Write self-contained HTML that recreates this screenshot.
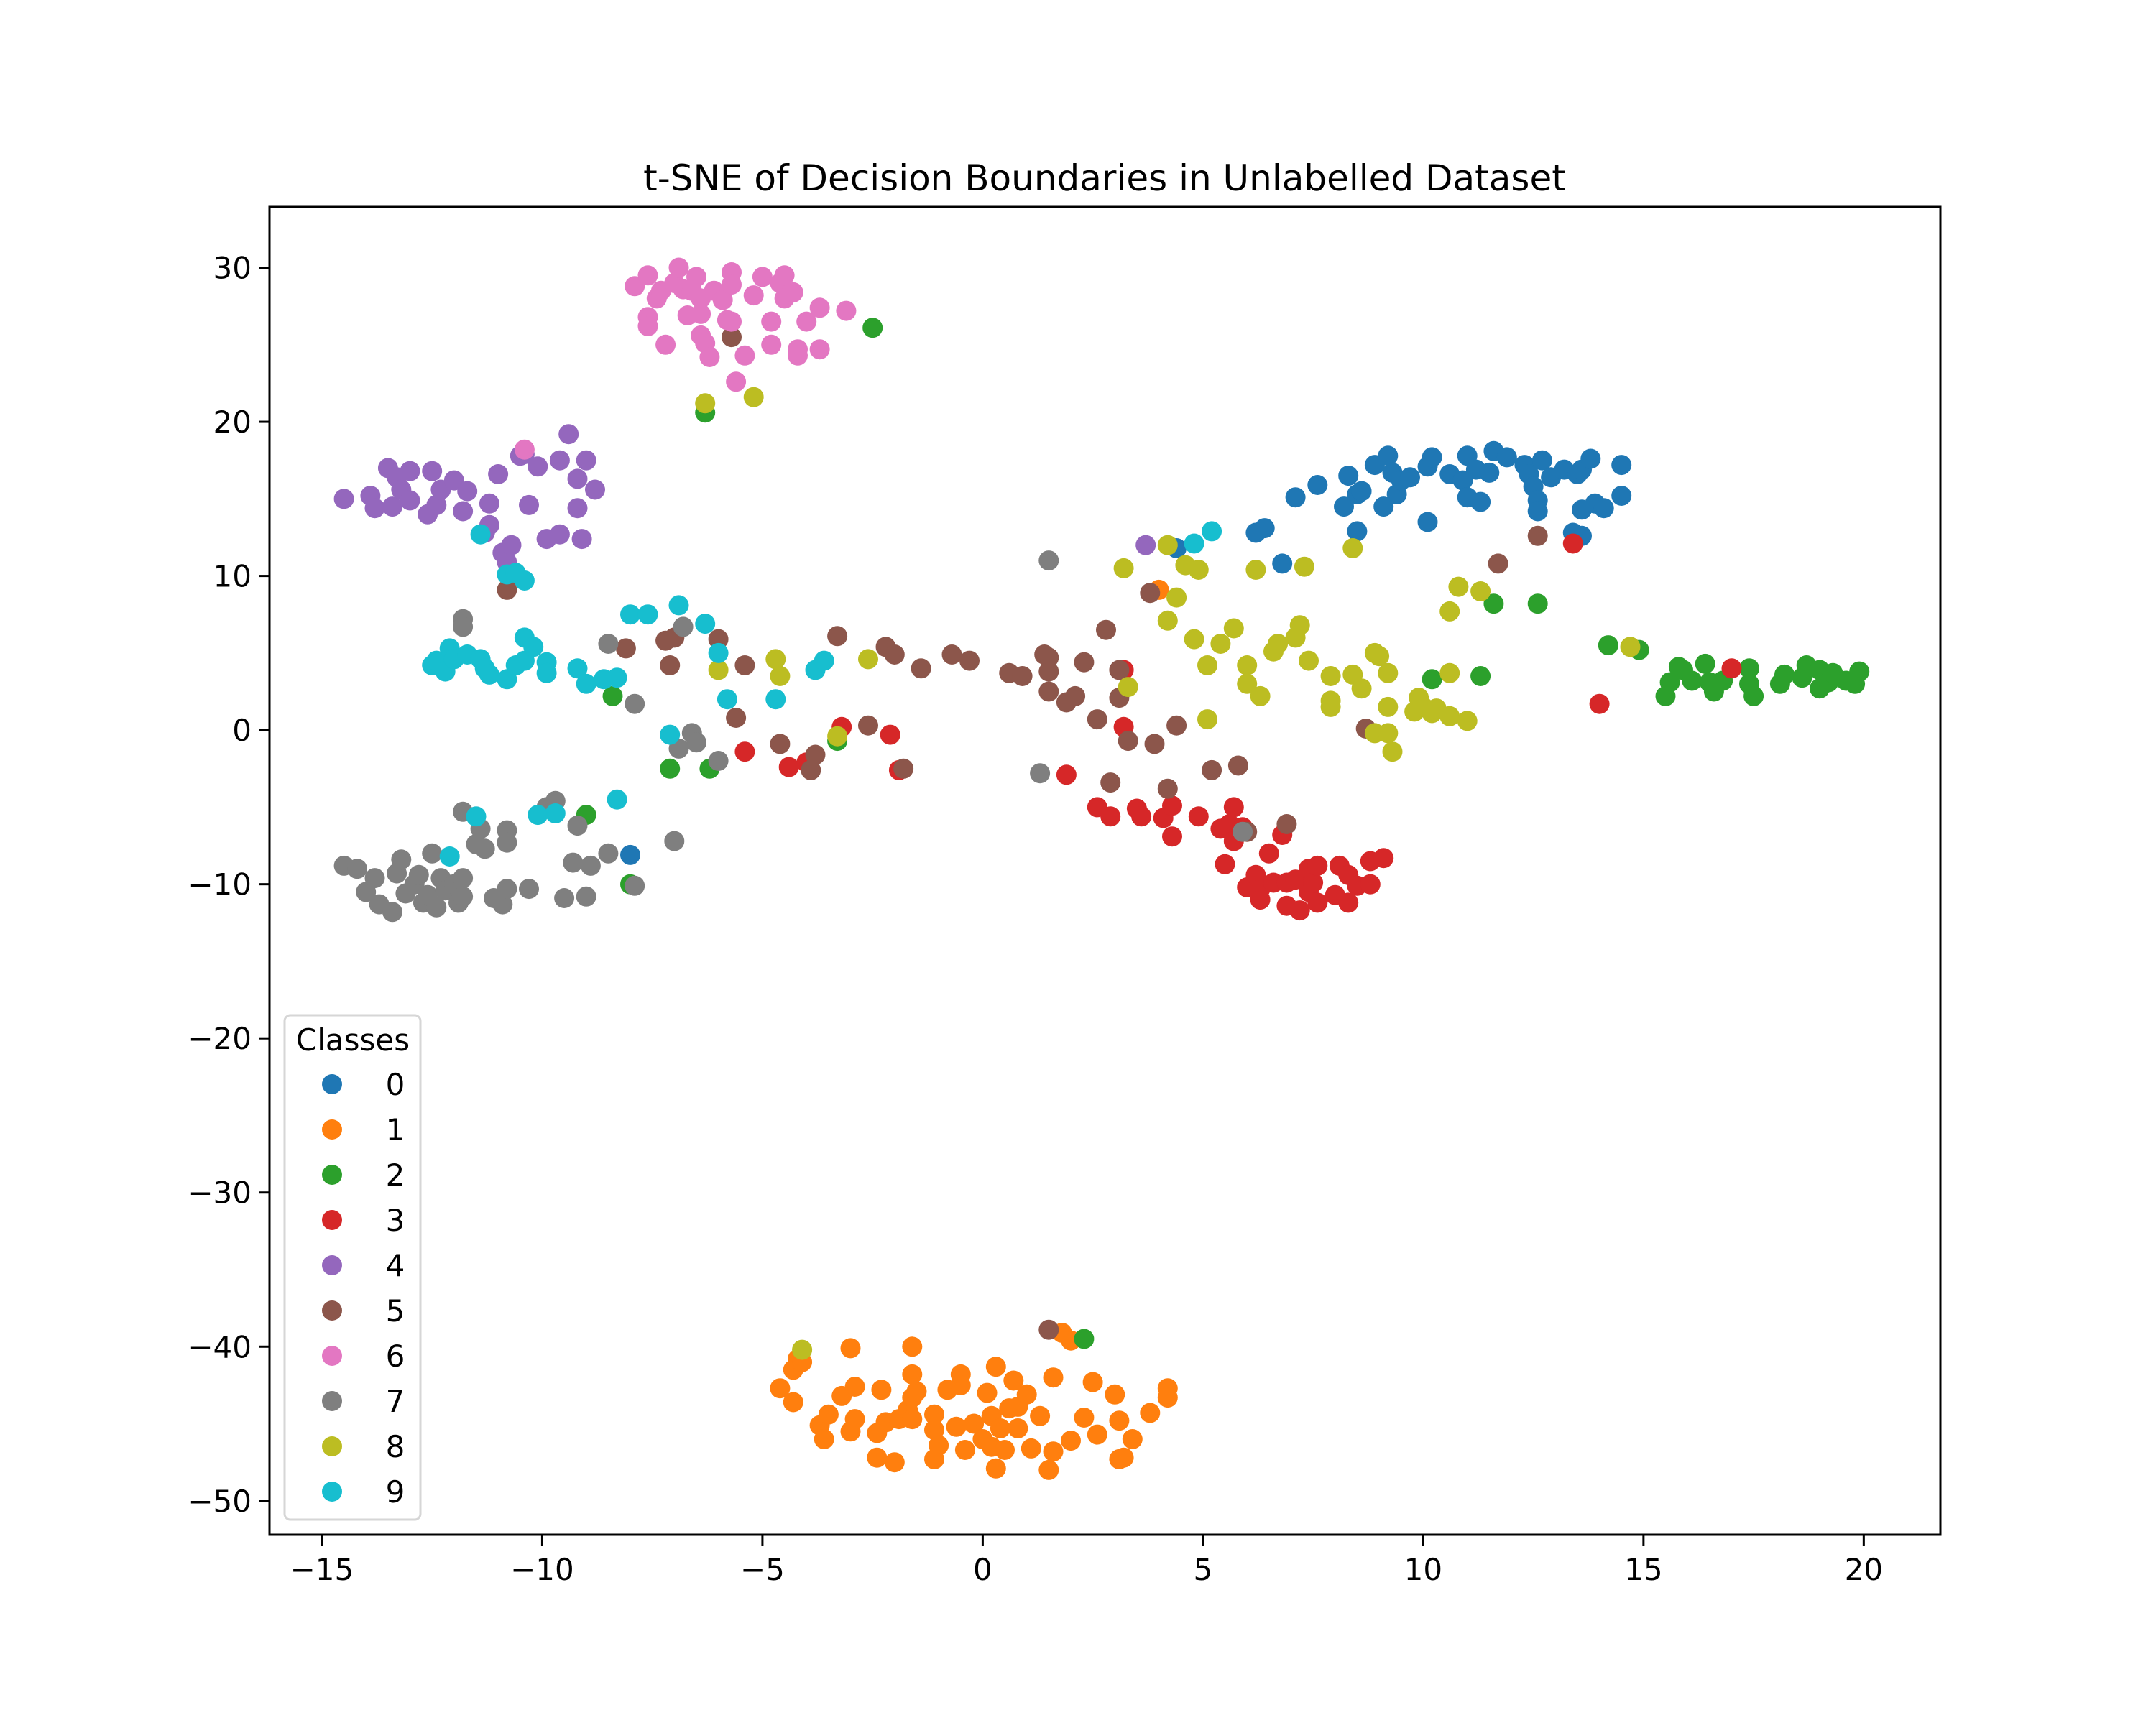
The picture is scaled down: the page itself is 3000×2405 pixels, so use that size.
<!DOCTYPE html>
<html><head><meta charset="utf-8"><style>
html,body{margin:0;padding:0;background:#fff;}
svg text{font-family:"DejaVu Sans","Liberation Sans",sans-serif;}
</style></head><body>
<svg id="chart" width="3000" height="2400" viewBox="0 0 3000 2400" xmlns="http://www.w3.org/2000/svg">
<rect width="3000" height="2400" fill="#fff"/>
<text x="1537" y="265" font-size="50" text-anchor="middle">t-SNE of Decision Boundaries in Unlabelled Dataset</text>
<g id="points"></g>
<rect x="375" y="288" width="2325" height="1848" fill="none" stroke="#000" stroke-width="3"/>
<g id="xticks"></g>
<g id="yticks"></g>
<g id="legend">
<rect x="396" y="1413" width="189" height="702" rx="8" fill="#fff" fill-opacity="0.8" stroke="#d6d6d6" stroke-width="3"/>
<text x="491" y="1462" font-size="42" text-anchor="middle">Classes</text>
</g>
</svg>
<script>
const colors=["#1f77b4","#ff7f0e","#2ca02c","#d62728","#9467bd","#8c564b","#e377c2","#7f7f7f","#bcbd22","#17becf"];
const classLabels=["0","1","2","3","4","5","6","7","8","9"];
const xTicks=[-15,-10,-5,0,5,10,15,20];
const yTicks=[30,20,10,0,-10,-20,-30,-40,-50];
const class0=[[7.1,15.1],[7.6,15.9],[8.2,14.5],[8.3,16.5],[8.5,15.3],[8.6,15.5],[8.5,12.9],[8.9,17.2],[9.1,14.5],[9.2,17.8],[9.3,16.7],[9.4,15.3],[9.5,16.2],[9.7,16.4],[10.1,17.1],[10.2,17.7],[10.1,13.5],[10.6,16.6],[10.9,16.2],[11.0,17.8],[11.0,15.1],[11.2,16.9],[11.3,14.8],[11.5,16.7],[11.6,18.1],[11.9,17.7],[12.3,17.2],[12.4,16.6],[12.5,15.8],[12.6,14.9],[12.7,17.5],[12.6,14.2],[12.9,16.4],[13.2,16.9],[13.5,16.6],[13.6,16.9],[13.6,14.3],[13.8,17.6],[13.9,14.7],[14.1,14.4],[14.5,17.2],[14.5,15.2],[13.4,12.8],[13.6,12.6],[6.2,12.8],[6.4,13.1],[6.8,10.8],[4.4,11.8],[-8.0,-8.1]];
const class1=[[-4.6,-42.7],[-4.3,-41.5],[-4.2,-40.8],[-4.3,-43.6],[-4.1,-41.0],[-3.7,-45.1],[-3.6,-46.0],[-3.5,-44.4],[-3.2,-43.2],[-3.0,-45.5],[-3.0,-40.1],[-2.9,-42.6],[-2.9,-44.7],[-2.4,-45.6],[-2.4,-47.2],[-2.3,-42.8],[-2.2,-44.9],[-2.0,-47.5],[-1.9,-44.7],[-1.7,-44.1],[-1.6,-43.3],[-1.6,-40.0],[-1.6,-41.8],[-1.5,-42.9],[-1.6,-44.7],[-1.1,-44.4],[-1.1,-45.4],[-1.0,-46.4],[-1.1,-47.3],[-0.8,-42.8],[-0.6,-45.2],[-0.5,-41.8],[-0.5,-42.5],[-0.4,-46.7],[-0.2,-45.0],[0.0,-46.0],[0.1,-43.0],[0.2,-44.5],[0.2,-46.5],[0.3,-41.3],[0.3,-47.9],[0.4,-45.3],[0.5,-46.7],[0.6,-44.0],[0.7,-42.2],[0.8,-43.9],[0.8,-45.3],[1.0,-43.1],[1.1,-46.6],[1.3,-44.5],[1.6,-46.8],[1.5,-48.0],[1.6,-42.0],[1.8,-39.1],[2.0,-39.6],[2.0,-46.1],[2.3,-44.6],[2.5,-42.3],[2.6,-45.7],[3.0,-43.1],[3.1,-44.8],[3.1,-47.3],[3.2,-47.2],[3.4,-46.0],[3.8,-44.3],[4.2,-42.7],[4.2,-43.3],[4.0,9.1]];
const class2=[[14.2,5.5],[14.9,5.2],[15.5,2.2],[15.6,3.1],[15.8,4.1],[15.9,3.9],[16.1,3.2],[16.4,4.3],[16.5,3.1],[16.6,2.5],[16.8,3.2],[17.4,4.0],[17.4,3.0],[17.5,2.2],[18.1,3.0],[18.2,3.6],[18.6,3.4],[18.7,4.2],[19.0,3.9],[19.0,2.7],[19.2,3.1],[19.3,3.7],[19.6,3.2],[19.8,3.0],[19.9,3.8],[10.2,3.3],[11.3,3.5],[11.6,8.2],[12.6,8.2],[-2.5,26.1],[-6.3,20.6],[-8.4,2.2],[-7.1,-2.5],[-6.2,-2.5],[-3.3,-0.7],[-9.0,-5.5],[-8.0,-10.0],[2.3,-39.5]];
const class3=[[1.9,-2.9],[2.6,-5.0],[2.9,-5.6],[3.2,0.2],[3.2,3.9],[3.5,-5.1],[3.6,-5.6],[4.1,-5.7],[4.3,-4.9],[4.3,-6.9],[4.9,-5.6],[5.4,-6.4],[5.5,-8.7],[5.6,-6.1],[5.7,-7.2],[5.7,-5.0],[5.9,-6.3],[6.0,-10.2],[6.2,-9.4],[6.3,-10.3],[6.3,-11.0],[6.5,-8.0],[6.6,-9.9],[6.8,-6.8],[6.9,-9.9],[6.9,-11.4],[7.1,-9.7],[7.2,-11.7],[7.4,-10.5],[7.4,-9.0],[7.5,-9.9],[7.6,-8.8],[7.6,-11.2],[8.0,-10.7],[8.1,-8.8],[8.3,-9.4],[8.3,-11.2],[8.5,-10.1],[8.8,-10.0],[8.8,-8.5],[9.1,-8.3],[13.4,12.1],[14.0,1.7],[17.0,4.0],[-3.2,0.2],[-2.1,-0.3],[-1.9,-2.6],[-4.4,-2.4],[-4.0,-2.1],[-5.4,-1.4]];
const class4=[[-14.5,15.0],[-13.9,15.2],[-13.8,14.4],[-13.5,17.0],[-13.4,14.5],[-13.3,16.4],[-13.2,15.6],[-13.0,16.8],[-13.0,14.9],[-12.6,14.0],[-12.5,16.8],[-12.4,14.6],[-12.3,15.6],[-12.0,16.2],[-11.8,14.2],[-11.7,15.5],[-11.3,12.8],[-11.2,14.7],[-11.2,13.3],[-11.0,16.6],[-10.9,11.5],[-10.8,10.9],[-10.7,12.0],[-10.5,17.8],[-10.4,17.9],[-10.3,14.6],[-10.1,17.1],[-9.9,12.4],[-9.6,12.7],[-9.6,17.5],[-9.4,19.2],[-9.2,16.3],[-9.1,12.4],[-9.2,14.4],[-9.0,17.5],[-8.8,15.6],[3.7,12.0]];
const class5=[[-8.1,5.3],[-7.2,5.8],[-7.1,4.2],[-7.0,6.0],[-6.0,5.9],[-5.7,25.5],[-5.4,4.2],[-5.6,0.8],[-3.3,6.1],[-4.6,-0.9],[-3.9,-2.6],[-3.8,-1.6],[-2.6,0.3],[-2.2,5.4],[-2.0,4.9],[-1.8,-2.5],[-1.4,4.0],[-0.7,4.9],[-0.3,4.5],[0.6,3.7],[0.9,3.5],[1.4,4.9],[1.5,4.7],[1.5,3.8],[1.5,2.5],[1.5,-38.9],[1.9,1.8],[2.1,2.2],[2.3,4.4],[2.6,0.7],[2.8,6.5],[2.9,-3.4],[3.1,3.9],[3.1,2.1],[3.3,-0.7],[3.8,8.9],[3.9,-0.9],[4.2,-3.8],[4.4,0.3],[5.2,-2.6],[5.8,-2.3],[6.0,-6.6],[6.9,-6.1],[8.7,0.1],[11.7,10.8],[12.6,12.6],[-10.8,9.1]];
const class6=[[-7.9,28.8],[-7.6,29.5],[-7.6,26.8],[-7.6,26.2],[-7.4,28.0],[-7.3,28.5],[-7.2,25.0],[-7.0,29.0],[-6.9,30.0],[-6.8,28.6],[-6.7,26.9],[-6.6,28.5],[-6.5,29.4],[-6.4,28.0],[-6.4,27.0],[-6.4,25.6],[-6.3,25.1],[-6.2,24.2],[-6.1,28.5],[-5.9,27.9],[-5.8,26.6],[-5.7,29.7],[-5.7,26.5],[-5.7,28.9],[-5.6,22.6],[-5.4,24.3],[-5.2,28.2],[-5.0,29.4],[-4.8,26.5],[-4.8,25.0],[-4.6,29.0],[-4.5,29.5],[-4.5,28.0],[-4.3,28.4],[-4.2,24.7],[-4.0,26.5],[-3.7,27.4],[-3.7,24.7],[-3.1,27.2],[-4.2,24.3],[-10.4,18.2]];
const class7=[[-14.5,-8.8],[-14.2,-9.0],[-14.0,-10.5],[-13.8,-9.6],[-13.7,-11.3],[-13.4,-11.8],[-13.3,-9.3],[-13.2,-8.4],[-13.1,-10.6],[-12.9,-10.0],[-12.8,-9.4],[-12.7,-11.2],[-12.6,-10.7],[-12.5,-8.0],[-12.4,-11.5],[-12.3,-9.6],[-12.2,-10.4],[-12.0,-10.0],[-11.9,-11.2],[-11.8,-9.6],[-11.8,-5.3],[-11.8,-10.8],[-11.5,-7.4],[-11.4,-6.4],[-11.3,-7.7],[-11.1,-10.9],[-10.8,-6.5],[-10.8,-7.3],[-10.9,-11.3],[-10.8,-10.3],[-10.3,-10.3],[-9.9,-5.0],[-9.7,-4.6],[-9.5,-10.9],[-9.3,-8.6],[-9.2,-6.2],[-8.9,-8.8],[-9.0,-10.8],[-8.5,-8.0],[-7.9,-10.1],[-7.0,-7.2],[-6.9,-1.2],[-6.6,-0.2],[-6.5,-0.8],[-6.0,-2.0],[-6.8,6.7],[-8.5,5.6],[-7.9,1.7],[-11.8,7.2],[-11.8,6.7],[1.5,11.0],[1.3,-2.8],[5.9,-6.6]];
const class8=[[-6.3,21.2],[-5.2,21.6],[-6.0,3.9],[-4.7,4.6],[-4.6,3.5],[-3.3,-0.4],[-2.6,4.6],[3.2,10.5],[3.3,2.8],[4.2,12.0],[4.2,7.1],[4.4,8.6],[4.6,10.7],[4.9,10.4],[4.8,5.9],[5.1,4.2],[5.1,0.7],[5.4,5.6],[5.7,6.6],[6.0,4.2],[6.0,3.0],[6.2,10.4],[6.3,2.2],[6.6,5.1],[6.7,5.6],[7.1,6.0],[7.2,6.8],[7.3,10.6],[7.4,4.5],[7.9,3.5],[7.9,1.5],[7.9,1.9],[8.4,11.8],[8.4,3.6],[8.6,2.7],[8.9,-0.2],[8.9,5.0],[9.0,4.8],[9.2,3.7],[9.2,1.5],[9.2,-0.2],[9.3,-1.4],[9.8,1.2],[9.9,2.1],[10.0,1.5],[10.2,1.1],[10.3,1.4],[10.6,3.7],[10.6,7.7],[10.6,0.9],[10.8,9.3],[11.0,0.6],[11.3,9.0],[14.7,5.4],[-4.1,-40.2]];
const class9=[[-12.5,4.2],[-12.4,4.5],[-12.2,3.8],[-12.1,5.3],[-12.0,4.6],[-11.7,4.9],[-11.4,4.6],[-11.3,4.0],[-11.2,3.6],[-10.8,3.3],[-10.6,4.2],[-10.4,6.0],[-10.4,4.5],[-10.2,5.4],[-9.9,4.4],[-9.9,3.7],[-9.2,4.0],[-9.0,3.0],[-8.6,3.3],[-8.3,3.4],[-8.0,7.5],[-7.6,7.5],[-7.1,-0.3],[-6.9,8.1],[-6.3,6.9],[-6.0,5.0],[-5.8,2.0],[-4.7,2.0],[-3.8,3.9],[-3.6,4.5],[-11.4,12.7],[-10.8,10.1],[-10.6,10.2],[-10.4,9.7],[-11.5,-5.6],[-12.1,-8.2],[-10.1,-5.5],[-9.7,-5.4],[-8.3,-4.5],[4.8,12.1],[5.2,12.9]];
const series=[class0,class1,class2,class3,class4,class5,class6,class7,class8,class9];

const NS="http://www.w3.org/2000/svg";
const X0=375,X1=2700,Y0=288,Y1=2136;
const xMin=-16.19,xMax=21.74,yMin=-52.2,yMax=33.94;
function sx(v){return X0+(v-xMin)/(xMax-xMin)*(X1-X0);}
function sy(v){return Y1-(v-yMin)/(yMax-yMin)*(Y1-Y0);}
function mk(tag,attrs){const e=document.createElementNS(NS,tag);for(const k in attrs)e.setAttribute(k,attrs[k]);return e;}

const pg=document.getElementById('points');
series.forEach((pts,ci)=>{
  const g=mk('g',{});
  
  
  pts.forEach(p=>{
    const c=mk('circle',{cx:sx(p[0]).toFixed(1),cy:sy(p[1]).toFixed(1),r:14,fill:colors[ci]});
    
    
    g.appendChild(c);
  });
  pg.appendChild(g);
});

const xg=document.getElementById('xticks');
xTicks.forEach(t=>{
  const x=sx(t);
  const l=mk('line',{x1:x,x2:x,y1:Y1,y2:Y1+15,stroke:'#000','stroke-width':3});
  
  
  xg.appendChild(l);
  const tx=mk('text',{x:x,y:Y1+63,'font-size':42,'text-anchor':'middle'});
  
  
  tx.textContent=(t<0?'\u2212'+Math.abs(t):String(t));
  xg.appendChild(tx);
});
const yg=document.getElementById('yticks');
yTicks.forEach(t=>{
  const y=sy(t);
  const l=mk('line',{x1:X0-15,x2:X0,y1:y,y2:y,stroke:'#000','stroke-width':3});
  
  
  yg.appendChild(l);
  const tx=mk('text',{x:X0-25,y:y+15,'font-size':42,'text-anchor':'end'});
  
  
  tx.textContent=(t<0?'\u2212'+Math.abs(t):String(t));
  yg.appendChild(tx);
});

const lg=document.getElementById('legend');
classLabels.forEach((lab,i)=>{
  const y=1509+i*63;
  const g=mk('g',{});
  
  
  g.appendChild(mk('circle',{cx:462,cy:y,r:14,fill:colors[i]}));
  const t=mk('text',{x:550,y:y+15,'font-size':42,'text-anchor':'middle'});
  t.textContent=lab;
  g.appendChild(t);
  lg.appendChild(g);
});
</script>
</body></html>
